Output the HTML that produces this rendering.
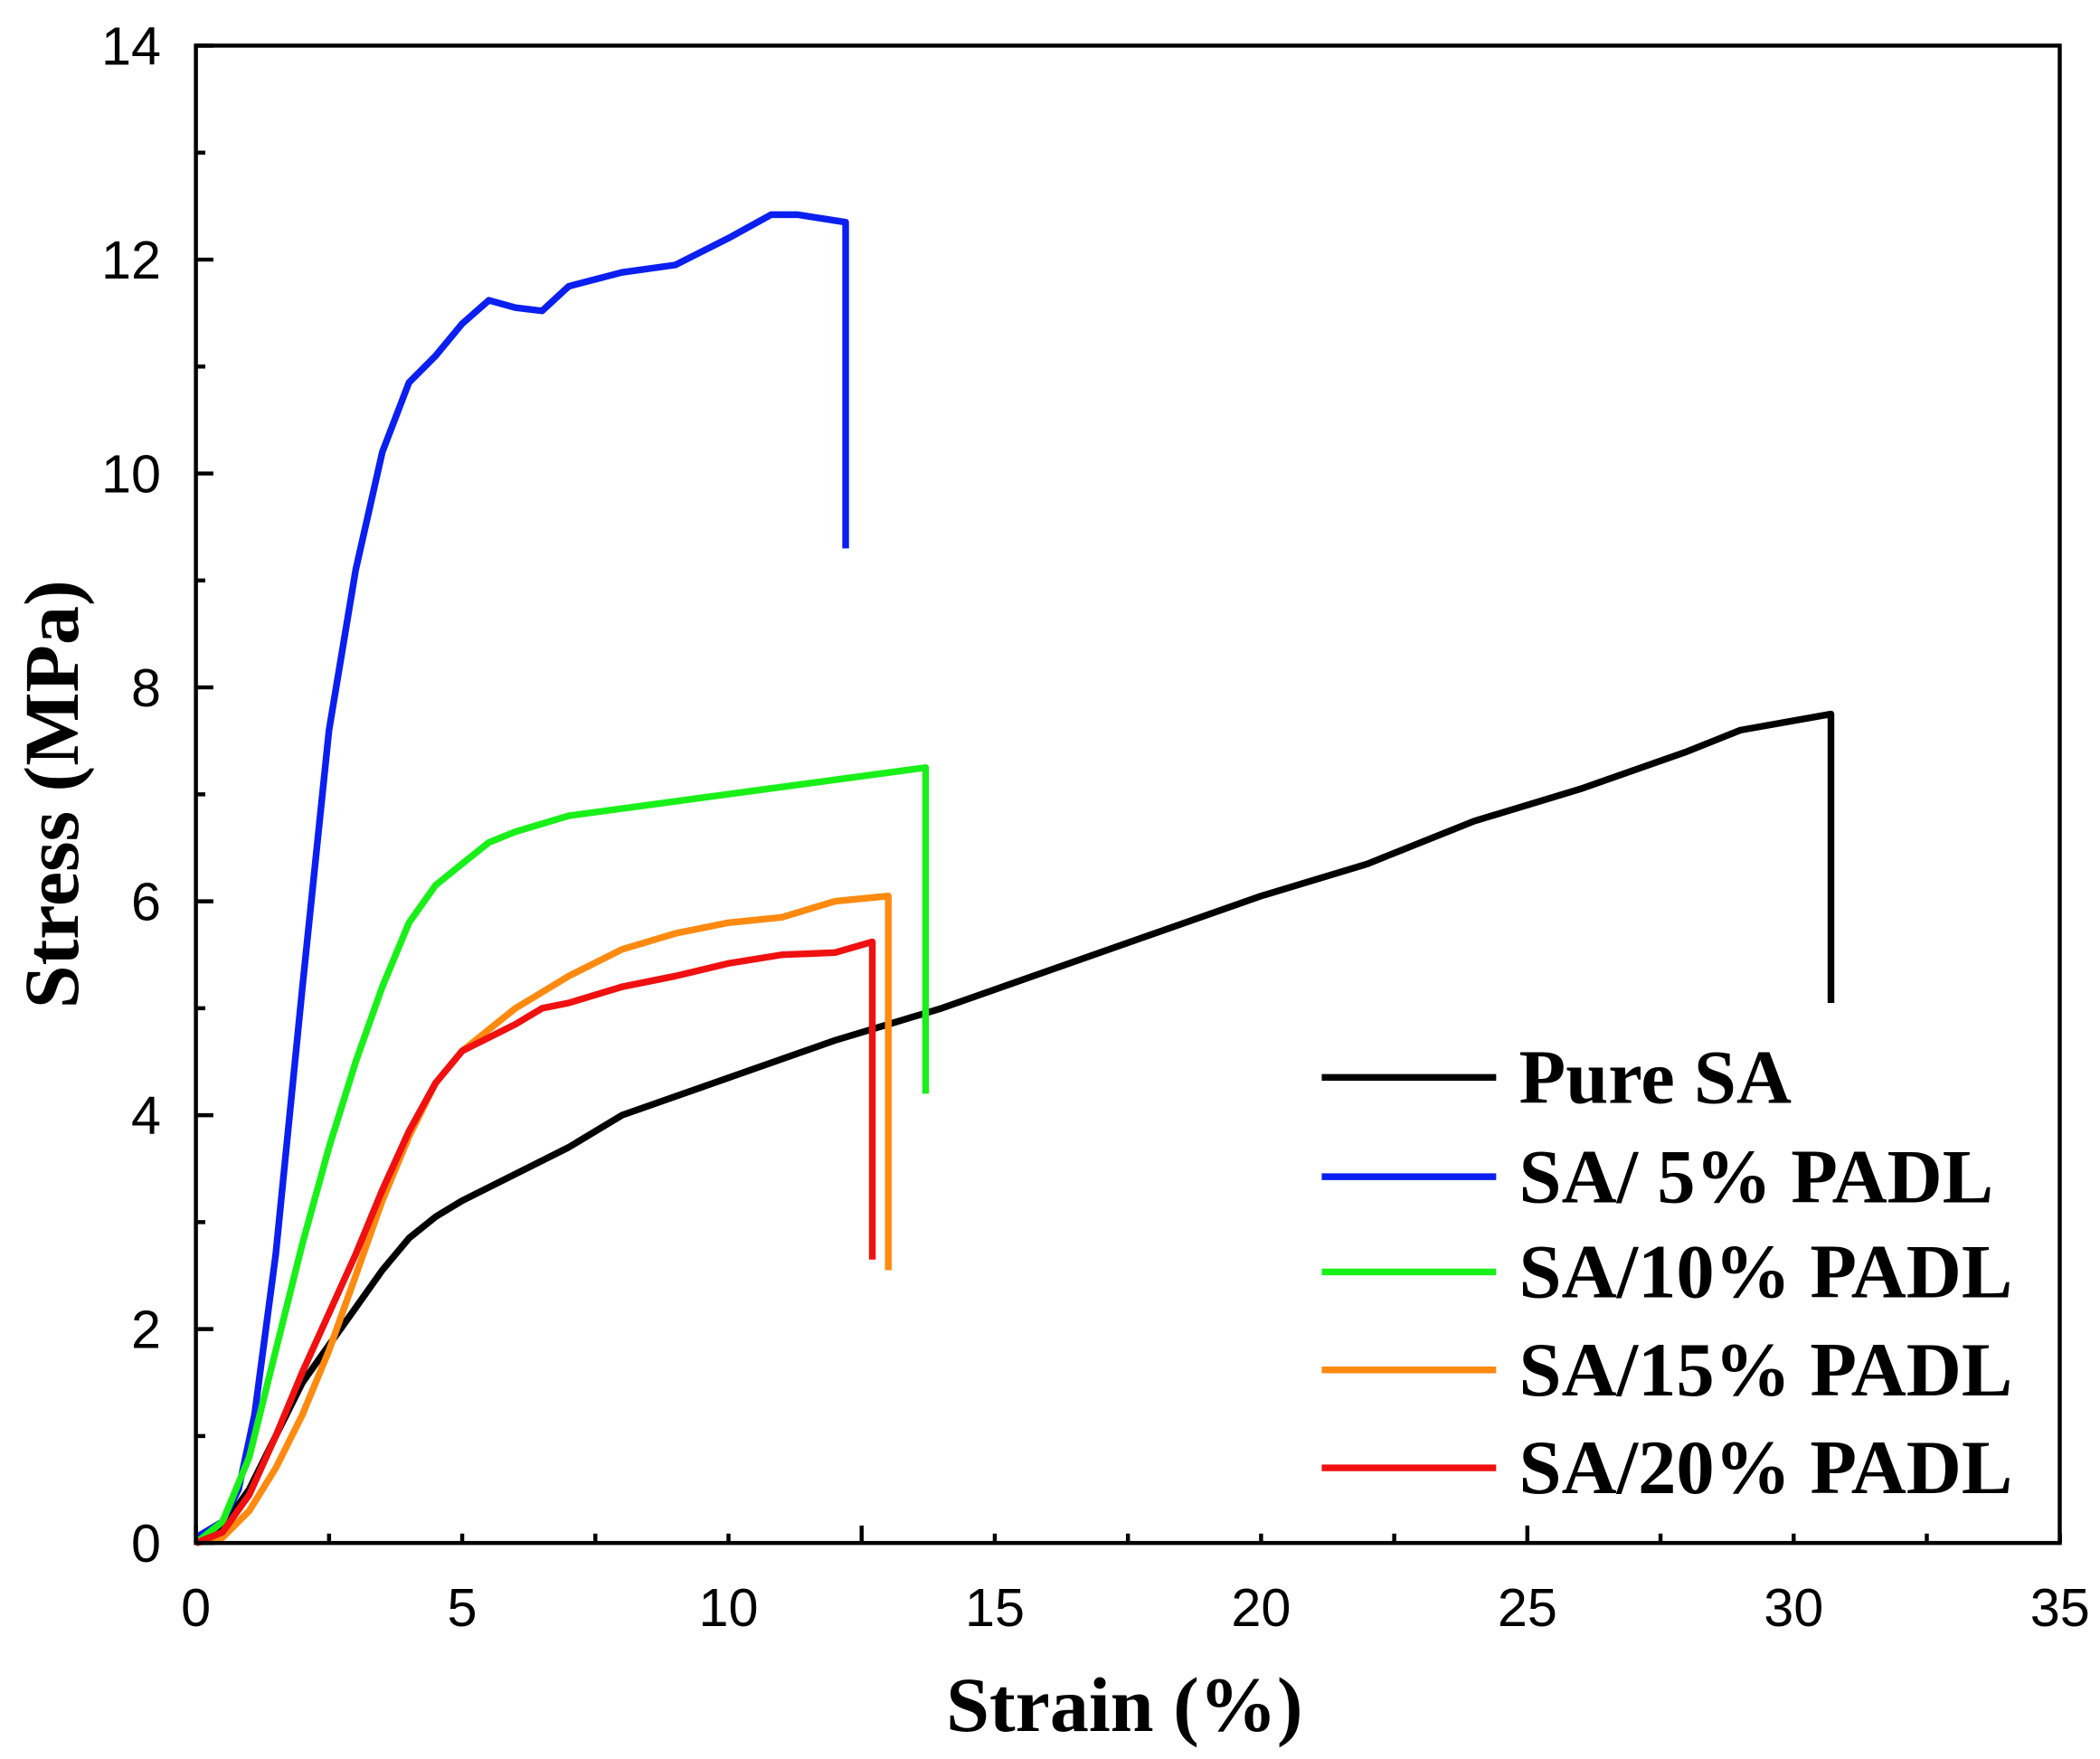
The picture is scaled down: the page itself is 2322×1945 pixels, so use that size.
<!DOCTYPE html>
<html><head><meta charset="utf-8"><style>html,body{margin:0;padding:0;background:#fff}svg{display:block}</style></head>
<body>
<svg id="s" width="2322" height="1945" viewBox="0 0 1565 1311" preserveAspectRatio="none" xmlns="http://www.w3.org/2000/svg">
<rect x="0" y="0" width="1565" height="1311" fill="#fff"/>
<g id="curves" fill="none" stroke-width="5" stroke-linejoin="round"></g>
<rect x="146" y="34" width="1389" height="1116" fill="none" stroke="#000" stroke-width="3"/>
<g id="ticks" stroke="#000" stroke-width="3"></g>
<g id="labels" font-family="Liberation Sans, sans-serif" font-size="40" fill="#000"></g>
<text x="838" y="1290" text-anchor="middle" font-family="Liberation Serif, serif" font-weight="bold" font-size="58">Strain (%)</text>
<text transform="translate(58,592) rotate(-90)" text-anchor="middle" font-family="Liberation Serif, serif" font-weight="bold" font-size="58">Stress (MPa)</text>
<g font-family="Liberation Serif, serif" font-weight="bold" font-size="57" stroke-width="5">
<line x1="985" y1="803" x2="1115" y2="803" stroke="#000"/><text x="1132" y="822">Pure SA</text>
<line x1="985" y1="877" x2="1115" y2="877" stroke="#0a1ff0"/><text x="1132" y="896">SA/ 5% PADL</text>
<line x1="985" y1="948" x2="1115" y2="948" stroke="#19f019"/><text x="1132" y="967">SA/10% PADL</text>
<line x1="985" y1="1021" x2="1115" y2="1021" stroke="#ff8a10"/><text x="1132" y="1040">SA/15% PADL</text>
<line x1="985" y1="1094" x2="1115" y2="1094" stroke="#f01010"/><text x="1132" y="1113">SA/20% PADL</text>
</g>
</svg>
<script>
var X=function(x){return 146+39.69*x},Y=function(y){return 1150-79.71*y};
var data={
"#000":[[0,0],[0.5,0.15],[1,0.5],[1.5,1.0],[2,1.5],[2.5,1.85],[3,2.2],[3.5,2.55],[4,2.85],[4.5,3.05],[5,3.2],[6,3.45],[7,3.7],[8,4.0],[10,4.35],[12,4.7],[14,5.0],[16,5.35],[18,5.7],[20,6.05],[22,6.35],[24,6.75],[26,7.05],[28,7.4],[29,7.6],[30.7,7.75],[30.7,5.05]],
"#0a1ff0":[[0,0.05],[0.5,0.2],[0.8,0.5],[1.1,1.2],[1.5,2.7],[2,5.2],[2.5,7.6],[3,9.1],[3.5,10.2],[4,10.85],[4.5,11.1],[5,11.4],[5.5,11.62],[6,11.55],[6.5,11.52],[7,11.75],[8,11.88],[9,11.95],[10,12.2],[10.8,12.42],[11.3,12.42],[12.2,12.35],[12.2,9.3]],
"#19f019":[[0,0],[0.5,0.2],[1,0.8],[1.5,1.8],[2,2.8],[2.5,3.7],[3,4.5],[3.5,5.2],[4,5.8],[4.5,6.15],[5,6.35],[5.5,6.55],[6,6.65],[7,6.8],[13.7,7.25],[13.7,4.2]],
"#ff8a10":[[0,0],[0.5,0.05],[1,0.3],[1.5,0.7],[2,1.2],[2.5,1.8],[3,2.5],[3.5,3.2],[4,3.8],[4.5,4.3],[5,4.6],[6,5.0],[6.5,5.15],[7,5.3],[8,5.55],[9,5.7],[10,5.8],[11,5.85],[12,6.0],[13,6.05],[13,2.55]],
"#f01010":[[0,0],[0.5,0.1],[1,0.45],[1.5,1.0],[2,1.6],[3,2.7],[3.5,3.3],[4,3.85],[4.5,4.3],[5,4.6],[6,4.85],[6.5,5.0],[7,5.05],[8,5.2],[9,5.3],[10,5.42],[11,5.5],[12,5.52],[12.7,5.62],[12.7,2.65]]};
var ns="http://www.w3.org/2000/svg",g=document.getElementById("curves");
for(var c in data){var p=document.createElementNS(ns,"polyline");p.setAttribute("points",data[c].map(function(q){return X(q[0]).toFixed(1)+","+Y(q[1]).toFixed(1)}).join(" "));p.setAttribute("stroke",c);g.appendChild(p);}
var t=document.getElementById("ticks"),l=document.getElementById("labels");
function ln(a,b,c,d){var e=document.createElementNS(ns,"line");e.setAttribute("x1",a);e.setAttribute("y1",b);e.setAttribute("x2",c);e.setAttribute("y2",d);t.appendChild(e);}
function tx(x,y,s,a){var e=document.createElementNS(ns,"text");e.setAttribute("x",x);e.setAttribute("y",y);e.setAttribute("text-anchor",a);e.textContent=s;l.appendChild(e);}
for(var i=0;i<=14;i++){var L=i%5==0?13:7;ln(X(i*2.5),1150,X(i*2.5),1150-L);if(i%2==0)tx(X(i*2.5),1212,String(i*2.5),"middle");}
for(var j=0;j<=14;j++){var L2=j%2==0?13:7;ln(146,Y(j),146+L2,Y(j));if(j%2==0)tx(120,Y(j)+14,String(j),"end");}
</script>
</body></html>
